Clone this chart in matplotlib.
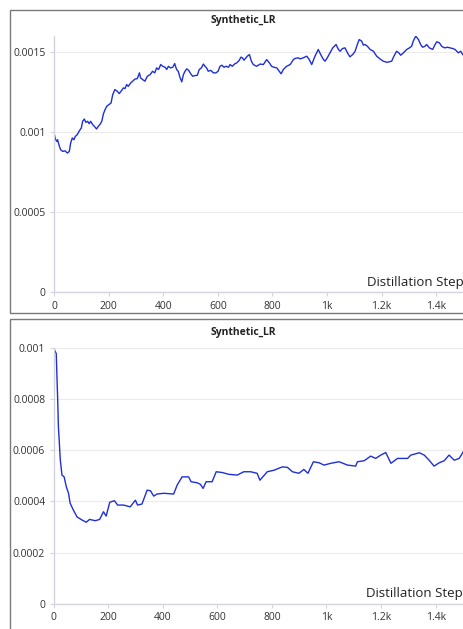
import matplotlib
matplotlib.use("Agg")
import matplotlib.pyplot as plt
from matplotlib.patches import Rectangle
from matplotlib.ticker import FuncFormatter

plt.rcParams['font.family'] = ['Open Sans', 'DejaVu Sans']

# Run 1: learned synthetic LR, rises from 1e-3
steps_a = [0, 6, 10, 13, 18, 24, 32, 40, 49, 56, 61, 67, 73, 78, 85, 93, 100, 105,
           111, 117, 123, 129, 134, 142, 148, 156, 162, 168, 175, 181, 187, 193, 201,
           209, 215, 223, 232, 239, 248, 254, 260, 266, 272, 281, 288, 297, 305, 313,
           317, 325, 333, 342, 352, 361, 369, 376, 383, 391, 398, 407, 413, 419, 427,
           435, 442, 449, 455, 462, 468, 474, 480, 486, 493, 501, 508, 516, 525, 532,
           540, 547, 553, 559, 565, 574, 584, 593, 601, 608, 615, 623, 630, 639, 645,
           653, 661, 669, 678, 685, 690, 696, 703, 708, 716, 723, 730, 742, 755, 767,
           779, 789, 797, 806, 816, 825, 832, 840, 852, 865, 877, 883, 895, 901, 913,
           926, 935, 944, 956, 968, 977, 987, 993, 1001, 1011, 1021, 1033, 1042, 1048,
           1057, 1066, 1075, 1084, 1094, 1103, 1111, 1118, 1127, 1133, 1139, 1148,
           1158, 1170, 1182, 1194, 1206, 1219, 1228, 1237, 1245, 1255, 1263, 1270,
           1280, 1292, 1302, 1310, 1316, 1325, 1335, 1343, 1350, 1359, 1365, 1375,
           1387, 1396, 1402, 1412, 1420, 1426, 1432, 1441, 1451, 1460, 1469, 1475,
           1481, 1490, 1497]
lr_a = [0.000995, 0.000953, 0.000943, 0.000953, 0.000922, 0.000891, 0.00088, 0.000884,
        0.00087, 0.00088, 0.000932, 0.000964, 0.000953, 0.000974, 0.000984, 0.001009,
        0.001026, 0.001068, 0.001082, 0.001061, 0.001068, 0.001053, 0.001068, 0.001047,
        0.001036, 0.00102, 0.001036, 0.001047, 0.001068, 0.001114, 0.001141, 0.001161,
        0.001172, 0.001182, 0.001234, 0.001266, 0.001255, 0.001241, 0.001261, 0.001276,
        0.001272, 0.001297, 0.001286, 0.001307, 0.001318, 0.001332, 0.001334, 0.00137,
        0.001339, 0.001328, 0.001318, 0.001349, 0.001359, 0.00138, 0.00137, 0.001401,
        0.001391, 0.001422, 0.001411, 0.001405, 0.001391, 0.001411, 0.001401, 0.001405,
        0.001428, 0.001391, 0.00138, 0.001339, 0.001314, 0.001359, 0.00138, 0.001395,
        0.001386, 0.001364, 0.001349, 0.001353, 0.001355, 0.001391, 0.001401, 0.001425,
        0.001411, 0.001401, 0.00138, 0.001386, 0.00137, 0.00137, 0.00138, 0.001411,
        0.001418, 0.001405, 0.001411, 0.001405, 0.001422, 0.001411, 0.001425, 0.001432,
        0.001447, 0.001468, 0.001464, 0.001449, 0.001464, 0.001474, 0.001484, 0.001443,
        0.001422, 0.001411, 0.001425, 0.001422, 0.001453, 0.001432, 0.001411, 0.001405,
        0.001401, 0.00138, 0.001364, 0.001391, 0.001411, 0.001422, 0.001453, 0.00146,
        0.001464, 0.001457, 0.001464, 0.001474, 0.001453, 0.001422, 0.001474, 0.001516,
        0.001484, 0.001453, 0.001443, 0.001464, 0.001495, 0.001526, 0.001547, 0.001516,
        0.001505, 0.001522, 0.001526, 0.001495, 0.00147, 0.001484, 0.001505, 0.001547,
        0.001578, 0.001568, 0.001543, 0.001547, 0.001536, 0.001516, 0.001505, 0.001474,
        0.001457, 0.001443, 0.001436, 0.001439, 0.001443, 0.001474, 0.001505, 0.001495,
        0.00148, 0.001495, 0.001516, 0.001526, 0.001536, 0.001568, 0.001599, 0.001578,
        0.001547, 0.00153, 0.001536, 0.001547, 0.001526, 0.001516, 0.001547, 0.001564,
        0.001557, 0.001536, 0.00153, 0.001526, 0.00153, 0.001526, 0.001522, 0.001516,
        0.001505, 0.001495, 0.001505, 0.001484]

# Run 2: learned synthetic LR, drops fast then recovers
steps_b = [0, 10, 15, 18, 25, 31, 39, 47, 55, 61, 73, 86, 104, 120, 132, 153, 169,
           183, 193, 206, 223, 235, 257, 281, 300, 308, 324, 343, 355, 367, 379,
           404, 440, 453, 471, 495, 504, 526, 538, 548, 559, 581, 596, 618, 642,
           673, 697, 722, 746, 756, 783, 808, 838, 857, 875, 899, 917, 932, 952,
           973, 991, 1016, 1046, 1077, 1107, 1113, 1138, 1150, 1162, 1180, 1199,
           1217, 1236, 1260, 1297, 1309, 1340, 1358, 1376, 1394, 1413, 1431, 1449,
           1468, 1486, 1501]
lr_b = [0.001, 0.000977, 0.000808, 0.000691, 0.000561, 0.000503, 0.000496, 0.000457,
        0.000432, 0.000393, 0.000366, 0.00034, 0.000328, 0.000319, 0.00033, 0.000325,
        0.00033, 0.00036, 0.000343, 0.000397, 0.000403, 0.000386, 0.000386, 0.000379,
        0.000405, 0.000386, 0.00039, 0.000444, 0.000442, 0.000421, 0.000429, 0.000432,
        0.000429, 0.000464, 0.000496, 0.000496, 0.000477, 0.000473, 0.000467, 0.000451,
        0.000477, 0.000477, 0.000516, 0.000513, 0.000506, 0.000503, 0.000516, 0.000516,
        0.00051, 0.000483, 0.000516, 0.000522, 0.000535, 0.000533, 0.000516, 0.00051,
        0.000525, 0.00051, 0.000555, 0.000551, 0.000542, 0.000549, 0.000555, 0.000542,
        0.000538, 0.000555, 0.000559, 0.000568, 0.000577, 0.000568, 0.000581, 0.000591,
        0.000549, 0.000568, 0.000568, 0.000581, 0.00059, 0.000581, 0.000561, 0.000538,
        0.000551, 0.000559, 0.000581, 0.000561, 0.000568, 0.000594]

xticks = [0, 200, 400, 600, 800, 1000, 1200, 1400]
xtick_labels = ['0', '200', '400', '600', '800', '1k', '1.2k', '1.4k']
yticks_a = [0, 0.0005, 0.001, 0.0015]
yticks_b = [0, 0.0002, 0.0004, 0.0006, 0.0008, 0.001]

LINE = '#1f2fd8'
W, H = 463, 629


def fmt_y(v, pos):
    if v == 0:
        return '0'
    return ('%.4f' % v).rstrip('0')


def style_axes(ax, yticks, ylim):
    ax.set_xlim(0, 1500)
    ax.set_ylim(*ylim)
    ax.set_xticks(xticks)
    ax.set_xticklabels(xtick_labels)
    ax.set_yticks(yticks)
    ax.yaxis.set_major_formatter(FuncFormatter(fmt_y))
    ax.grid(axis='y', color='#ebebeb', linewidth=0.8)
    ax.set_axisbelow(True)
    for side in ['top', 'right']:
        ax.spines[side].set_visible(False)
    for side in ['left', 'bottom']:
        ax.spines[side].set_color('#d4d4e0')
        ax.spines[side].set_linewidth(1.0)
    ax.tick_params(axis='both', colors='#d4d4e0', labelcolor='#333333',
                   labelsize=7.5, length=3, width=0.8, pad=3)
    ax.text(1.0, 0.015, 'Distillation Step', transform=ax.transAxes,
            ha='right', va='bottom', fontsize=9.5, color='#222222')


fig = plt.figure(figsize=(W / 100, H / 100), dpi=100)

# card frames around each panel
fig.patches.append(Rectangle((9.5 / W, 1 - 313 / H), 1.2, (313 - 10) / H,
                             transform=fig.transFigure, fill=False,
                             edgecolor='#7a7a7a', linewidth=1.0))
fig.patches.append(Rectangle((9.5 / W, -0.05), 1.2, 0.05 + (629 - 319) / H,
                             transform=fig.transFigure, fill=False,
                             edgecolor='#7a7a7a', linewidth=1.0))

ax1 = fig.add_axes([54 / W, 1 - 292.5 / H, (463.5 - 54) / W, (292.5 - 36) / H])
ax1.plot(steps_a, lr_a, color=LINE, linewidth=1.0)
style_axes(ax1, yticks_a, (0, 0.0016))

ax2 = fig.add_axes([53.5 / W, 1 - 604 / H, (463 - 53.5) / W, (604 - 347.7) / H])
ax2.plot(steps_b, lr_b, color=LINE, linewidth=1.0)
style_axes(ax2, yticks_b, (0, 0.001))

fig.text(243 / W, 1 - 20 / H, 'Synthetic_LR', ha='center', va='center',
         fontsize=7.5, fontweight='bold', color='#222222')
fig.text(243 / W, 1 - 332 / H, 'Synthetic_LR', ha='center', va='center',
         fontsize=7.5, fontweight='bold', color='#222222')

fig.savefig('out.png', dpi=100)
